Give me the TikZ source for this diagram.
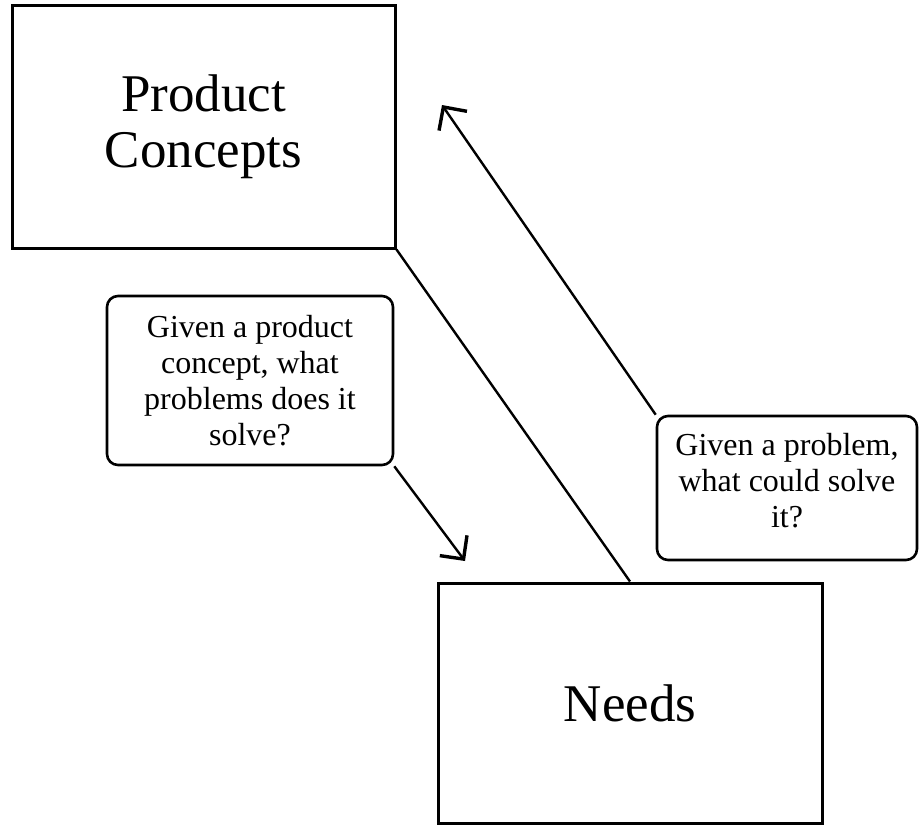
\documentclass[tikz,border=0pt]{standalone}
\usepackage{fontspec}
\setmainfont{Liberation Serif}
\usetikzlibrary{arrows.meta}
\begin{document}
\begin{tikzpicture}[x=1pt,y=-1pt,
  bigbox/.style={draw=black,line width=3pt,rectangle,inner sep=0pt,
    font=\fontsize{53}{56}\selectfont,align=center},
  qbox/.style={draw=black,line width=2.6pt,rectangle,rounded corners=11pt,inner sep=0pt},
  qtext/.style={font=\fontsize{32}{36}\selectfont,align=center,inner sep=0pt},
  link/.style={draw=black,line width=2.4pt},
  barb/.style={link,-{Straight Barb[angle=90:24pt,line width=3.4pt]}}]
\useasboundingbox (0,0) rectangle (923,828);
% the two main boxes
\node[bigbox,minimum width=383pt,minimum height=243pt] (pc) at (203.5,126.5) {Product\\Concepts};
\node[bigbox,minimum width=384pt,minimum height=240pt] (needs) at (630,703) {Needs};
% question boxes
\node[qbox,minimum width=286pt,minimum height=169pt] (lq) at (250,380.5) {};
\node[qtext] (lqt) at (lq.center) {Given a product\\concept, what\\problems does it\\solve?};
\node[qbox,minimum width=260pt,minimum height=144pt] (rq) at (787,488) {};
\node[qtext,anchor=north] (rqt) at ([yshift=-18pt]rq.north) {Given a problem,\\what could solve\\it?};
% connectors
\coordinate (uptip) at (442,105);
\coordinate (downtip) at (465,561);
\draw[link] (pc.south east) -- (needs.north);
\draw[barb] (rq.north west) -- (uptip);
\draw[barb] (lq.south east) -- (downtip);
\end{tikzpicture}
\end{document}
